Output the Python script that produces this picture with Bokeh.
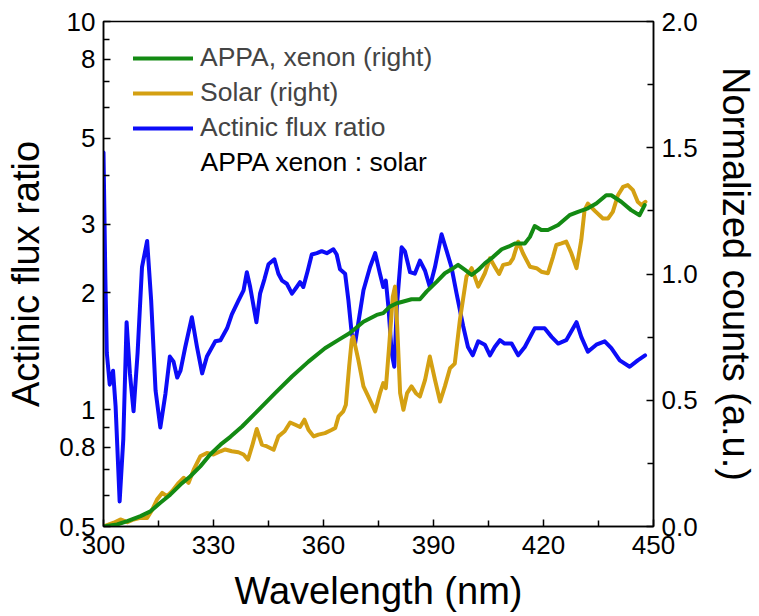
from bokeh.plotting import figure
from bokeh.models import (Range1d, LinearAxis, LinearScale, FixedTicker, CustomJSTickFormatter,
                          PrintfTickFormatter, Legend, LegendItem, Label)
from bokeh.embed import file_html
from bokeh.resources import INLINE

# ---------------- data ----------------
ratio_wl = [300.0, 300.5, 300.9, 301.7, 302.6, 303.3, 304.4, 305.4, 306.3, 307.2,
            308.2, 309.3, 310.5, 311.9, 313.0, 314.2, 315.5, 316.9, 318.1, 319.1,
            320.1, 321.0, 322.3, 324.1, 325.5, 326.9, 328.2, 330.5, 331.9, 333.7,
            335.0, 336.8, 338.2, 339.1, 340.0, 341.7, 342.7, 343.9, 345.0, 346.6,
            347.7, 348.7, 350.0, 351.4, 352.7, 353.6, 354.5, 355.7, 356.8, 358.2,
            359.5, 360.9, 362.7, 363.6, 364.5, 365.9, 366.8, 367.7, 368.6, 370.9,
            372.7, 374.1, 375.4, 376.3, 377.0, 377.7, 378.6, 379.3, 380.0, 381.3,
            382.2, 383.6, 384.9, 386.3, 387.7, 389.0, 390.4, 392.2, 393.6, 394.9,
            396.3, 398.1, 399.4, 400.7, 402.2, 404.0, 405.4, 406.7, 408.1, 409.4,
            411.3, 413.1, 414.9, 417.6, 420.3, 422.2, 424.0, 426.2, 429.0, 430.3,
            432.1, 434.4, 436.7, 438.5, 440.8, 443.5, 445.7, 447.7]
ratio_val = [4.6, 2.2, 1.4, 1.16, 1.26, 1.02, 0.58, 0.84, 1.68, 1.24,
             0.99, 1.40, 2.33, 2.72, 1.91, 1.12, 0.90, 1.10, 1.37, 1.33,
             1.21, 1.26, 1.45, 1.73, 1.45, 1.24, 1.37, 1.50, 1.51, 1.62,
             1.76, 1.91, 2.03, 2.26, 2.07, 1.68, 1.99, 2.17, 2.37, 2.44,
             2.24, 2.15, 2.11, 1.99, 2.07, 2.13, 2.07, 2.28, 2.51, 2.53,
             2.56, 2.53, 2.59, 2.51, 2.30, 2.24, 1.91, 1.57, 1.48, 2.03,
             2.33, 2.53, 2.24, 2.07, 2.15, 1.84, 1.40, 1.29, 1.84, 2.62,
             2.56, 2.26, 2.24, 2.42, 2.28, 2.07, 2.33, 2.83, 2.56, 2.33,
             1.99, 1.64, 1.45, 1.38, 1.50, 1.47, 1.38, 1.45, 1.51, 1.48,
             1.48, 1.38, 1.45, 1.62, 1.62, 1.54, 1.48, 1.51, 1.68, 1.54,
             1.41, 1.47, 1.50, 1.44, 1.34, 1.29, 1.34, 1.38]

solar_wl = [300.0, 302.8, 304.6, 306.5, 308.2, 310.1, 311.9, 313.3, 314.6, 316.0,
            317.3, 318.7, 320.5, 321.9, 323.2, 324.6, 326.4, 328.2, 330.0, 331.9,
            333.2, 335.0, 336.8, 338.2, 339.4, 340.5, 341.8, 343.2, 344.6, 346.4,
            347.7, 349.4, 350.9, 352.3, 353.6, 354.8, 355.9, 357.3, 358.6, 360.4,
            362.3, 363.2, 364.1, 365.4, 366.1, 367.0, 367.7, 368.1, 369.5, 370.9,
            372.2, 374.1, 375.4, 376.3, 377.0, 377.9, 378.9, 379.5, 380.1, 380.9,
            381.8, 382.8, 384.0, 385.2, 386.3, 387.7, 389.0, 390.4, 391.8, 393.1,
            394.5, 395.8, 397.2, 399.0, 400.4, 402.2, 404.0, 405.4, 406.7, 407.9,
            409.0, 410.8, 411.7, 413.1, 414.4, 416.3, 418.1, 419.4, 421.2, 422.6,
            423.5, 424.9, 426.2, 427.6, 429.0, 430.3, 431.2, 432.1, 434.0, 436.2,
            437.6, 438.9, 440.3, 441.7, 443.0, 444.4, 445.7, 446.7, 447.8]
solar_val = [0.0, 0.015, 0.028, 0.017, 0.028, 0.034, 0.034, 0.067, 0.107, 0.133,
             0.120, 0.140, 0.173, 0.193, 0.173, 0.225, 0.278, 0.291, 0.285, 0.298,
             0.305, 0.298, 0.294, 0.285, 0.265, 0.317, 0.386, 0.324, 0.317, 0.304,
             0.357, 0.377, 0.412, 0.403, 0.394, 0.423, 0.383, 0.357, 0.364, 0.370,
             0.383, 0.390, 0.436, 0.456, 0.482, 0.634, 0.739, 0.752, 0.660, 0.555,
             0.515, 0.456, 0.528, 0.568, 0.548, 0.713, 0.910, 0.950, 0.792, 0.528,
             0.462, 0.528, 0.555, 0.528, 0.515, 0.581, 0.673, 0.581, 0.495, 0.555,
             0.627, 0.645, 0.818, 0.990, 1.023, 0.950, 1.003, 1.062, 1.029, 1.000,
             1.036, 1.042, 1.062, 1.128, 1.082, 1.029, 1.023, 1.009, 1.003, 1.068,
             1.115, 1.121, 1.128, 1.082, 1.023, 1.134, 1.253, 1.279, 1.250, 1.220,
             1.220, 1.246, 1.312, 1.345, 1.352, 1.332, 1.286, 1.273, 1.286]

xenon_wl = [300.0, 303.7, 306.5, 310.1, 312.8, 315.5, 318.2, 321.0, 323.7, 326.4,
            329.1, 331.9, 334.6, 337.8, 342.3, 346.8, 351.4, 355.9, 360.4, 364.1,
            367.2, 370.9, 374.5, 376.3, 378.1, 380.0, 381.8, 384.0, 386.3, 388.1,
            390.9, 393.1, 395.4, 396.7, 398.6, 400.4, 402.2, 404.0, 406.3, 408.6,
            410.4, 412.2, 414.9, 416.3, 417.6, 419.4, 421.2, 424.0, 427.1, 429.4,
            432.1, 434.4, 437.1, 438.5, 441.2, 443.9, 446.2, 447.6]
xenon_val = [0.0, 0.008, 0.021, 0.041, 0.060, 0.094, 0.126, 0.166, 0.199, 0.238,
             0.285, 0.324, 0.355, 0.396, 0.462, 0.528, 0.594, 0.653, 0.706, 0.739,
             0.766, 0.811, 0.838, 0.845, 0.871, 0.884, 0.891, 0.900, 0.900, 0.930,
             0.970, 1.003, 1.023, 1.036, 1.016, 0.996, 1.016, 1.042, 1.068, 1.098,
             1.108, 1.121, 1.121, 1.147, 1.190, 1.174, 1.174, 1.194, 1.233, 1.246,
             1.260, 1.279, 1.312, 1.312, 1.286, 1.253, 1.233, 1.273]

x_ticks = [300, 330, 360, 390, 420, 450]
x_minor = [315, 345, 375, 405, 435]
left_ticks = [0.5, 0.8, 1, 2, 3, 5, 8, 10]
left_minor = [0.6, 0.7, 0.9, 4, 6, 7, 9]
right_ticks = [0.0, 0.5, 1.0, 1.5, 2.0]
right_minor = [0.25, 0.75, 1.25, 1.75]

FONT = "Liberation Sans"
GREEN = "#138a13"
GOLD = "#d4a012"
BLUE = "#0c0cf8"

p = figure(width=759, height=614, x_range=Range1d(300, 450), y_range=Range1d(0.5, 10),
           y_axis_type="log", output_backend="svg", toolbar_location=None,
           min_border_left=103, min_border_right=104, min_border_top=21, min_border_bottom=87)
p.extra_y_ranges = {"right": Range1d(0, 2)}
p.extra_y_scales = {"right": LinearScale()}
p.xgrid.visible = False
p.ygrid.visible = False
p.outline_line_color = "black"
p.outline_line_width = 1.5
p.background_fill_color = "white"
p.border_fill_color = "white"

def style_axis(ax, ticks, minor):
    ax.ticker = FixedTicker(ticks=ticks, minor_ticks=minor)
    ax.major_tick_in = 7
    ax.major_tick_out = 0
    ax.minor_tick_in = 6
    ax.minor_tick_out = 0
    ax.axis_line_width = 1.5
    ax.major_tick_line_width = 1.5
    ax.minor_tick_line_width = 1.5
    ax.major_label_text_font = FONT
    ax.major_label_text_font_size = "26px"
    ax.major_label_text_color = "black"
    ax.axis_label_text_font = FONT
    ax.axis_label_text_font_size = "38px"
    ax.axis_label_text_font_style = "normal"
    ax.axis_label_text_color = "black"

xa = p.xaxis[0]
style_axis(xa, x_ticks, x_minor)
xa.axis_label = "Wavelength (nm)"
xa.major_label_standoff = 9
xa.axis_label_standoff = 13

ya = p.yaxis[0]
style_axis(ya, left_ticks, left_minor)
ya.formatter = CustomJSTickFormatter(code="return String(tick);")
ya.axis_label = "Actinic flux ratio"
ya.major_label_standoff = 8
ya.axis_label_standoff = 9

ra = LinearAxis(y_range_name="right")
style_axis(ra, right_ticks, right_minor)
ra.formatter = PrintfTickFormatter(format="%.1f")
ra.axis_label = "Normalized counts (a.u.)"
ra.major_label_standoff = 8
ra.axis_label_standoff = 14
p.add_layout(ra, "right")

line_kw = dict(line_width=4, line_join="round", line_cap="round")
r_blue = p.line(ratio_wl, ratio_val, line_color=BLUE, **line_kw)
r_gold = p.line(solar_wl, solar_val, line_color=GOLD, y_range_name="right", **line_kw)
r_green = p.line(xenon_wl, xenon_val, line_color=GREEN, y_range_name="right", **line_kw)

legend = Legend(items=[
    LegendItem(label="APPA, xenon (right)", renderers=[r_green]),
    LegendItem(label="Solar (right)", renderers=[r_gold]),
    LegendItem(label="Actinic flux ratio", renderers=[r_blue]),
], location=(30, 383))
legend.label_text_font = FONT
legend.label_text_font_size = "26.5px"
legend.glyph_width = 60
legend.label_standoff = 7
legend.spacing = 4
legend.padding = 0
legend.margin = 0
legend.border_line_alpha = 0
legend.background_fill_alpha = 0
p.add_layout(legend)

p.add_layout(Label(x=97, y=365, x_units="screen", y_units="screen",
                   text="APPA xenon : solar", text_font=FONT, text_font_size="26.5px",
                   text_baseline="middle", text_color="black"))

open("out.html", "w").write(file_html(p, INLINE))
